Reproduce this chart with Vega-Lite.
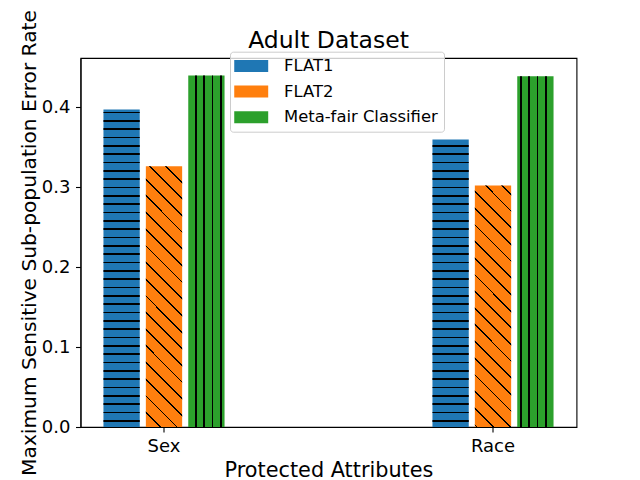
{
  "$schema": "https://vega.github.io/schema/vega-lite/v6.json",
  "width": 496,
  "height": 369,
  "autosize": {"type": "none"},
  "padding": {"left": 80.5, "top": 58, "right": 63.5, "bottom": 53},
  "background": "white",
  "config": {
    "font": "DejaVu Sans",
    "view": {"stroke": "black", "strokeWidth": 1.1},
    "axis": {"grid": false, "domainColor": "black", "domainWidth": 1.1, "tickColor": "black", "tickWidth": 1.1, "tickSize": 5, "labelColor": "black", "labelFont": "DejaVu Sans", "labelFontSize": 18, "titleColor": "black", "titleFont": "DejaVu Sans", "titleFontSize": 20.8, "titleFontWeight": "normal"}
  },
  "title": {"text": "Adult Dataset", "fontSize": 23.5, "font": "DejaVu Sans", "fontWeight": "normal", "color": "black", "anchor": "middle", "offset": -43},
  "data": {"values": [
    {"attribute": "Sex", "model": "FLAT1", "error": 0.397},
    {"attribute": "Sex", "model": "FLAT2", "error": 0.326},
    {"attribute": "Sex", "model": "Meta-fair Classifier", "error": 0.4395},
    {"attribute": "Race", "model": "FLAT1", "error": 0.3595},
    {"attribute": "Race", "model": "FLAT2", "error": 0.302},
    {"attribute": "Race", "model": "Meta-fair Classifier", "error": 0.4385}
  ]},
  "encoding": {
    "x": {"field": "attribute", "type": "nominal", "scale": {"domain": ["Sex", "Race"], "paddingInner": 0.6134, "paddingOuter": 0.0605},
      "axis": {"title": "Protected Attributes", "labelAngle": 0, "labelBaseline": "alphabetic", "labelPadding": 19.7, "titleBaseline": "alphabetic", "titleX": 248, "titleY": 49.7}},
    "xOffset": {"field": "model", "type": "nominal", "scale": {"domain": ["FLAT1", "FLAT2", "Meta-fair Classifier"], "paddingInner": 0.144, "paddingOuter": 0.072}},
    "y": {"field": "error", "type": "quantitative", "scale": {"domain": [0, 0.46125], "nice": false},
      "axis": {"title": "Maximum Sensitive Sub-population Error Rate", "titleFontSize": 20.2, "values": [0, 0.1, 0.2, 0.3, 0.4], "format": ".1f", "labelPadding": 5.5, "titleAngle": -90, "titleBaseline": "alphabetic", "titleAlign": "center", "titleX": -45, "titleY": 184.5}}
  },
  "layer": [
    {
      "mark": {"type": "bar"},
      "encoding": {
        "color": {"field": "model", "type": "nominal",
          "scale": {"domain": ["FLAT1", "FLAT2", "Meta-fair Classifier"], "range": ["#1f77b4", "#ff7f0e", "#2ca02c"]},
          "legend": {"title": null, "orient": "none", "legendX": 149.5, "legendY": -6.3, "direction": "vertical", "labelFontSize": 16.4, "labelFont": "DejaVu Sans", "labelColor": "black", "symbolType": "M-1.66,-1H4,V1H-1.66Z", "symbolSize": 144, "symbolStrokeWidth": 0, "symbolOpacity": 1, "labelOffset": 31.6, "rowPadding": 8.7, "padding": 6, "strokeColor": "#cccccc", "fillColor": "rgba(255,255,255,0.8)", "cornerRadius": 3}
        }
      }
    },
    {
      "transform": [{"filter": "datum.attribute == 'Sex' && datum.model == 'FLAT1'"}],
      "mark": {"type": "bar", "fill": {"gradient": "linear", "x1": 0, "y1": 1, "x2": 0, "y2": -0.04953, "stops": [
        {"offset": 0.0164, "color": "transparent"}, {"offset": 0.0164, "color": "black"}, {"offset": 0.0206, "color": "black"}, {"offset": 0.0206, "color": "transparent"},
        {"offset": 0.0414, "color": "transparent"}, {"offset": 0.0414, "color": "black"}, {"offset": 0.0456, "color": "black"}, {"offset": 0.0456, "color": "transparent"},
        {"offset": 0.0664, "color": "transparent"}, {"offset": 0.0664, "color": "black"}, {"offset": 0.0706, "color": "black"}, {"offset": 0.0706, "color": "transparent"},
        {"offset": 0.0914, "color": "transparent"}, {"offset": 0.0914, "color": "black"}, {"offset": 0.0956, "color": "black"}, {"offset": 0.0956, "color": "transparent"},
        {"offset": 0.1164, "color": "transparent"}, {"offset": 0.1164, "color": "black"}, {"offset": 0.1206, "color": "black"}, {"offset": 0.1206, "color": "transparent"},
        {"offset": 0.1414, "color": "transparent"}, {"offset": 0.1414, "color": "black"}, {"offset": 0.1456, "color": "black"}, {"offset": 0.1456, "color": "transparent"},
        {"offset": 0.1664, "color": "transparent"}, {"offset": 0.1664, "color": "black"}, {"offset": 0.1706, "color": "black"}, {"offset": 0.1706, "color": "transparent"},
        {"offset": 0.1914, "color": "transparent"}, {"offset": 0.1914, "color": "black"}, {"offset": 0.1956, "color": "black"}, {"offset": 0.1956, "color": "transparent"},
        {"offset": 0.2164, "color": "transparent"}, {"offset": 0.2164, "color": "black"}, {"offset": 0.2206, "color": "black"}, {"offset": 0.2206, "color": "transparent"},
        {"offset": 0.2414, "color": "transparent"}, {"offset": 0.2414, "color": "black"}, {"offset": 0.2456, "color": "black"}, {"offset": 0.2456, "color": "transparent"},
        {"offset": 0.2664, "color": "transparent"}, {"offset": 0.2664, "color": "black"}, {"offset": 0.2706, "color": "black"}, {"offset": 0.2706, "color": "transparent"},
        {"offset": 0.2914, "color": "transparent"}, {"offset": 0.2914, "color": "black"}, {"offset": 0.2956, "color": "black"}, {"offset": 0.2956, "color": "transparent"},
        {"offset": 0.3164, "color": "transparent"}, {"offset": 0.3164, "color": "black"}, {"offset": 0.3206, "color": "black"}, {"offset": 0.3206, "color": "transparent"},
        {"offset": 0.3414, "color": "transparent"}, {"offset": 0.3414, "color": "black"}, {"offset": 0.3456, "color": "black"}, {"offset": 0.3456, "color": "transparent"},
        {"offset": 0.3664, "color": "transparent"}, {"offset": 0.3664, "color": "black"}, {"offset": 0.3706, "color": "black"}, {"offset": 0.3706, "color": "transparent"},
        {"offset": 0.3914, "color": "transparent"}, {"offset": 0.3914, "color": "black"}, {"offset": 0.3956, "color": "black"}, {"offset": 0.3956, "color": "transparent"},
        {"offset": 0.4164, "color": "transparent"}, {"offset": 0.4164, "color": "black"}, {"offset": 0.4206, "color": "black"}, {"offset": 0.4206, "color": "transparent"},
        {"offset": 0.4414, "color": "transparent"}, {"offset": 0.4414, "color": "black"}, {"offset": 0.4456, "color": "black"}, {"offset": 0.4456, "color": "transparent"},
        {"offset": 0.4664, "color": "transparent"}, {"offset": 0.4664, "color": "black"}, {"offset": 0.4706, "color": "black"}, {"offset": 0.4706, "color": "transparent"},
        {"offset": 0.4914, "color": "transparent"}, {"offset": 0.4914, "color": "black"}, {"offset": 0.4956, "color": "black"}, {"offset": 0.4956, "color": "transparent"},
        {"offset": 0.5164, "color": "transparent"}, {"offset": 0.5164, "color": "black"}, {"offset": 0.5206, "color": "black"}, {"offset": 0.5206, "color": "transparent"},
        {"offset": 0.5414, "color": "transparent"}, {"offset": 0.5414, "color": "black"}, {"offset": 0.5456, "color": "black"}, {"offset": 0.5456, "color": "transparent"},
        {"offset": 0.5664, "color": "transparent"}, {"offset": 0.5664, "color": "black"}, {"offset": 0.5706, "color": "black"}, {"offset": 0.5706, "color": "transparent"},
        {"offset": 0.5914, "color": "transparent"}, {"offset": 0.5914, "color": "black"}, {"offset": 0.5956, "color": "black"}, {"offset": 0.5956, "color": "transparent"},
        {"offset": 0.6164, "color": "transparent"}, {"offset": 0.6164, "color": "black"}, {"offset": 0.6206, "color": "black"}, {"offset": 0.6206, "color": "transparent"},
        {"offset": 0.6414, "color": "transparent"}, {"offset": 0.6414, "color": "black"}, {"offset": 0.6456, "color": "black"}, {"offset": 0.6456, "color": "transparent"},
        {"offset": 0.6664, "color": "transparent"}, {"offset": 0.6664, "color": "black"}, {"offset": 0.6706, "color": "black"}, {"offset": 0.6706, "color": "transparent"},
        {"offset": 0.6914, "color": "transparent"}, {"offset": 0.6914, "color": "black"}, {"offset": 0.6956, "color": "black"}, {"offset": 0.6956, "color": "transparent"},
        {"offset": 0.7164, "color": "transparent"}, {"offset": 0.7164, "color": "black"}, {"offset": 0.7206, "color": "black"}, {"offset": 0.7206, "color": "transparent"},
        {"offset": 0.7414, "color": "transparent"}, {"offset": 0.7414, "color": "black"}, {"offset": 0.7456, "color": "black"}, {"offset": 0.7456, "color": "transparent"},
        {"offset": 0.7664, "color": "transparent"}, {"offset": 0.7664, "color": "black"}, {"offset": 0.7706, "color": "black"}, {"offset": 0.7706, "color": "transparent"},
        {"offset": 0.7914, "color": "transparent"}, {"offset": 0.7914, "color": "black"}, {"offset": 0.7956, "color": "black"}, {"offset": 0.7956, "color": "transparent"},
        {"offset": 0.8164, "color": "transparent"}, {"offset": 0.8164, "color": "black"}, {"offset": 0.8206, "color": "black"}, {"offset": 0.8206, "color": "transparent"},
        {"offset": 0.8414, "color": "transparent"}, {"offset": 0.8414, "color": "black"}, {"offset": 0.8456, "color": "black"}, {"offset": 0.8456, "color": "transparent"},
        {"offset": 0.8664, "color": "transparent"}, {"offset": 0.8664, "color": "black"}, {"offset": 0.8706, "color": "black"}, {"offset": 0.8706, "color": "transparent"},
        {"offset": 0.8914, "color": "transparent"}, {"offset": 0.8914, "color": "black"}, {"offset": 0.8956, "color": "black"}, {"offset": 0.8956, "color": "transparent"},
        {"offset": 0.9164, "color": "transparent"}, {"offset": 0.9164, "color": "black"}, {"offset": 0.9206, "color": "black"}, {"offset": 0.9206, "color": "transparent"},
        {"offset": 0.9414, "color": "transparent"}, {"offset": 0.9414, "color": "black"}, {"offset": 0.9456, "color": "black"}, {"offset": 0.9456, "color": "transparent"}
      ]}}
    },
    {
      "transform": [{"filter": "datum.attribute == 'Race' && datum.model == 'FLAT1'"}],
      "mark": {"type": "bar", "fill": {"gradient": "linear", "x1": 0, "y1": 1, "x2": 0, "y2": -0.15901, "stops": [
        {"offset": 0.0164, "color": "transparent"}, {"offset": 0.0164, "color": "black"}, {"offset": 0.0206, "color": "black"}, {"offset": 0.0206, "color": "transparent"},
        {"offset": 0.0414, "color": "transparent"}, {"offset": 0.0414, "color": "black"}, {"offset": 0.0456, "color": "black"}, {"offset": 0.0456, "color": "transparent"},
        {"offset": 0.0664, "color": "transparent"}, {"offset": 0.0664, "color": "black"}, {"offset": 0.0706, "color": "black"}, {"offset": 0.0706, "color": "transparent"},
        {"offset": 0.0914, "color": "transparent"}, {"offset": 0.0914, "color": "black"}, {"offset": 0.0956, "color": "black"}, {"offset": 0.0956, "color": "transparent"},
        {"offset": 0.1164, "color": "transparent"}, {"offset": 0.1164, "color": "black"}, {"offset": 0.1206, "color": "black"}, {"offset": 0.1206, "color": "transparent"},
        {"offset": 0.1414, "color": "transparent"}, {"offset": 0.1414, "color": "black"}, {"offset": 0.1456, "color": "black"}, {"offset": 0.1456, "color": "transparent"},
        {"offset": 0.1664, "color": "transparent"}, {"offset": 0.1664, "color": "black"}, {"offset": 0.1706, "color": "black"}, {"offset": 0.1706, "color": "transparent"},
        {"offset": 0.1914, "color": "transparent"}, {"offset": 0.1914, "color": "black"}, {"offset": 0.1956, "color": "black"}, {"offset": 0.1956, "color": "transparent"},
        {"offset": 0.2164, "color": "transparent"}, {"offset": 0.2164, "color": "black"}, {"offset": 0.2206, "color": "black"}, {"offset": 0.2206, "color": "transparent"},
        {"offset": 0.2414, "color": "transparent"}, {"offset": 0.2414, "color": "black"}, {"offset": 0.2456, "color": "black"}, {"offset": 0.2456, "color": "transparent"},
        {"offset": 0.2664, "color": "transparent"}, {"offset": 0.2664, "color": "black"}, {"offset": 0.2706, "color": "black"}, {"offset": 0.2706, "color": "transparent"},
        {"offset": 0.2914, "color": "transparent"}, {"offset": 0.2914, "color": "black"}, {"offset": 0.2956, "color": "black"}, {"offset": 0.2956, "color": "transparent"},
        {"offset": 0.3164, "color": "transparent"}, {"offset": 0.3164, "color": "black"}, {"offset": 0.3206, "color": "black"}, {"offset": 0.3206, "color": "transparent"},
        {"offset": 0.3414, "color": "transparent"}, {"offset": 0.3414, "color": "black"}, {"offset": 0.3456, "color": "black"}, {"offset": 0.3456, "color": "transparent"},
        {"offset": 0.3664, "color": "transparent"}, {"offset": 0.3664, "color": "black"}, {"offset": 0.3706, "color": "black"}, {"offset": 0.3706, "color": "transparent"},
        {"offset": 0.3914, "color": "transparent"}, {"offset": 0.3914, "color": "black"}, {"offset": 0.3956, "color": "black"}, {"offset": 0.3956, "color": "transparent"},
        {"offset": 0.4164, "color": "transparent"}, {"offset": 0.4164, "color": "black"}, {"offset": 0.4206, "color": "black"}, {"offset": 0.4206, "color": "transparent"},
        {"offset": 0.4414, "color": "transparent"}, {"offset": 0.4414, "color": "black"}, {"offset": 0.4456, "color": "black"}, {"offset": 0.4456, "color": "transparent"},
        {"offset": 0.4664, "color": "transparent"}, {"offset": 0.4664, "color": "black"}, {"offset": 0.4706, "color": "black"}, {"offset": 0.4706, "color": "transparent"},
        {"offset": 0.4914, "color": "transparent"}, {"offset": 0.4914, "color": "black"}, {"offset": 0.4956, "color": "black"}, {"offset": 0.4956, "color": "transparent"},
        {"offset": 0.5164, "color": "transparent"}, {"offset": 0.5164, "color": "black"}, {"offset": 0.5206, "color": "black"}, {"offset": 0.5206, "color": "transparent"},
        {"offset": 0.5414, "color": "transparent"}, {"offset": 0.5414, "color": "black"}, {"offset": 0.5456, "color": "black"}, {"offset": 0.5456, "color": "transparent"},
        {"offset": 0.5664, "color": "transparent"}, {"offset": 0.5664, "color": "black"}, {"offset": 0.5706, "color": "black"}, {"offset": 0.5706, "color": "transparent"},
        {"offset": 0.5914, "color": "transparent"}, {"offset": 0.5914, "color": "black"}, {"offset": 0.5956, "color": "black"}, {"offset": 0.5956, "color": "transparent"},
        {"offset": 0.6164, "color": "transparent"}, {"offset": 0.6164, "color": "black"}, {"offset": 0.6206, "color": "black"}, {"offset": 0.6206, "color": "transparent"},
        {"offset": 0.6414, "color": "transparent"}, {"offset": 0.6414, "color": "black"}, {"offset": 0.6456, "color": "black"}, {"offset": 0.6456, "color": "transparent"},
        {"offset": 0.6664, "color": "transparent"}, {"offset": 0.6664, "color": "black"}, {"offset": 0.6706, "color": "black"}, {"offset": 0.6706, "color": "transparent"},
        {"offset": 0.6914, "color": "transparent"}, {"offset": 0.6914, "color": "black"}, {"offset": 0.6956, "color": "black"}, {"offset": 0.6956, "color": "transparent"},
        {"offset": 0.7164, "color": "transparent"}, {"offset": 0.7164, "color": "black"}, {"offset": 0.7206, "color": "black"}, {"offset": 0.7206, "color": "transparent"},
        {"offset": 0.7414, "color": "transparent"}, {"offset": 0.7414, "color": "black"}, {"offset": 0.7456, "color": "black"}, {"offset": 0.7456, "color": "transparent"},
        {"offset": 0.7664, "color": "transparent"}, {"offset": 0.7664, "color": "black"}, {"offset": 0.7706, "color": "black"}, {"offset": 0.7706, "color": "transparent"},
        {"offset": 0.7914, "color": "transparent"}, {"offset": 0.7914, "color": "black"}, {"offset": 0.7956, "color": "black"}, {"offset": 0.7956, "color": "transparent"},
        {"offset": 0.8164, "color": "transparent"}, {"offset": 0.8164, "color": "black"}, {"offset": 0.8206, "color": "black"}, {"offset": 0.8206, "color": "transparent"},
        {"offset": 0.8414, "color": "transparent"}, {"offset": 0.8414, "color": "black"}, {"offset": 0.8456, "color": "black"}, {"offset": 0.8456, "color": "transparent"}
      ]}}
    },
    {
      "transform": [{"filter": "datum.attribute == 'Sex' && datum.model == 'FLAT2'"}],
      "mark": {"type": "bar", "fill": {"gradient": "linear", "x1": 1, "y1": 0, "x2": 0.84293, "y2": 1.12846, "stops": [
        {"offset": 0.0499, "color": "transparent"}, {"offset": 0.0499, "color": "black"}, {"offset": 0.0565, "color": "black"}, {"offset": 0.0565, "color": "transparent"},
        {"offset": 0.1054, "color": "transparent"}, {"offset": 0.1054, "color": "black"}, {"offset": 0.1120, "color": "black"}, {"offset": 0.1120, "color": "transparent"},
        {"offset": 0.1610, "color": "transparent"}, {"offset": 0.1610, "color": "black"}, {"offset": 0.1676, "color": "black"}, {"offset": 0.1676, "color": "transparent"},
        {"offset": 0.2165, "color": "transparent"}, {"offset": 0.2165, "color": "black"}, {"offset": 0.2231, "color": "black"}, {"offset": 0.2231, "color": "transparent"},
        {"offset": 0.2721, "color": "transparent"}, {"offset": 0.2721, "color": "black"}, {"offset": 0.2787, "color": "black"}, {"offset": 0.2787, "color": "transparent"},
        {"offset": 0.3276, "color": "transparent"}, {"offset": 0.3276, "color": "black"}, {"offset": 0.3342, "color": "black"}, {"offset": 0.3342, "color": "transparent"},
        {"offset": 0.3832, "color": "transparent"}, {"offset": 0.3832, "color": "black"}, {"offset": 0.3898, "color": "black"}, {"offset": 0.3898, "color": "transparent"},
        {"offset": 0.4388, "color": "transparent"}, {"offset": 0.4388, "color": "black"}, {"offset": 0.4454, "color": "black"}, {"offset": 0.4454, "color": "transparent"},
        {"offset": 0.4943, "color": "transparent"}, {"offset": 0.4943, "color": "black"}, {"offset": 0.5009, "color": "black"}, {"offset": 0.5009, "color": "transparent"},
        {"offset": 0.5499, "color": "transparent"}, {"offset": 0.5499, "color": "black"}, {"offset": 0.5565, "color": "black"}, {"offset": 0.5565, "color": "transparent"},
        {"offset": 0.6054, "color": "transparent"}, {"offset": 0.6054, "color": "black"}, {"offset": 0.6120, "color": "black"}, {"offset": 0.6120, "color": "transparent"},
        {"offset": 0.6610, "color": "transparent"}, {"offset": 0.6610, "color": "black"}, {"offset": 0.6676, "color": "black"}, {"offset": 0.6676, "color": "transparent"},
        {"offset": 0.7165, "color": "transparent"}, {"offset": 0.7165, "color": "black"}, {"offset": 0.7231, "color": "black"}, {"offset": 0.7231, "color": "transparent"},
        {"offset": 0.7721, "color": "transparent"}, {"offset": 0.7721, "color": "black"}, {"offset": 0.7787, "color": "black"}, {"offset": 0.7787, "color": "transparent"},
        {"offset": 0.8276, "color": "transparent"}, {"offset": 0.8276, "color": "black"}, {"offset": 0.8342, "color": "black"}, {"offset": 0.8342, "color": "transparent"},
        {"offset": 0.8832, "color": "transparent"}, {"offset": 0.8832, "color": "black"}, {"offset": 0.8898, "color": "black"}, {"offset": 0.8898, "color": "transparent"},
        {"offset": 0.9388, "color": "transparent"}, {"offset": 0.9388, "color": "black"}, {"offset": 0.9454, "color": "black"}, {"offset": 0.9454, "color": "transparent"}
      ]}}
    },
    {
      "transform": [{"filter": "datum.attribute == 'Race' && datum.model == 'FLAT2'"}],
      "mark": {"type": "bar", "fill": {"gradient": "linear", "x1": 1, "y1": 0, "x2": 0.81755, "y2": 1.21431, "stops": [
        {"offset": 0.0270, "color": "transparent"}, {"offset": 0.0270, "color": "black"}, {"offset": 0.0336, "color": "black"}, {"offset": 0.0336, "color": "transparent"},
        {"offset": 0.0825, "color": "transparent"}, {"offset": 0.0825, "color": "black"}, {"offset": 0.0891, "color": "black"}, {"offset": 0.0891, "color": "transparent"},
        {"offset": 0.1381, "color": "transparent"}, {"offset": 0.1381, "color": "black"}, {"offset": 0.1447, "color": "black"}, {"offset": 0.1447, "color": "transparent"},
        {"offset": 0.1936, "color": "transparent"}, {"offset": 0.1936, "color": "black"}, {"offset": 0.2002, "color": "black"}, {"offset": 0.2002, "color": "transparent"},
        {"offset": 0.2492, "color": "transparent"}, {"offset": 0.2492, "color": "black"}, {"offset": 0.2558, "color": "black"}, {"offset": 0.2558, "color": "transparent"},
        {"offset": 0.3048, "color": "transparent"}, {"offset": 0.3048, "color": "black"}, {"offset": 0.3114, "color": "black"}, {"offset": 0.3114, "color": "transparent"},
        {"offset": 0.3603, "color": "transparent"}, {"offset": 0.3603, "color": "black"}, {"offset": 0.3669, "color": "black"}, {"offset": 0.3669, "color": "transparent"},
        {"offset": 0.4159, "color": "transparent"}, {"offset": 0.4159, "color": "black"}, {"offset": 0.4225, "color": "black"}, {"offset": 0.4225, "color": "transparent"},
        {"offset": 0.4714, "color": "transparent"}, {"offset": 0.4714, "color": "black"}, {"offset": 0.4780, "color": "black"}, {"offset": 0.4780, "color": "transparent"},
        {"offset": 0.5270, "color": "transparent"}, {"offset": 0.5270, "color": "black"}, {"offset": 0.5336, "color": "black"}, {"offset": 0.5336, "color": "transparent"},
        {"offset": 0.5825, "color": "transparent"}, {"offset": 0.5825, "color": "black"}, {"offset": 0.5891, "color": "black"}, {"offset": 0.5891, "color": "transparent"},
        {"offset": 0.6381, "color": "transparent"}, {"offset": 0.6381, "color": "black"}, {"offset": 0.6447, "color": "black"}, {"offset": 0.6447, "color": "transparent"},
        {"offset": 0.6936, "color": "transparent"}, {"offset": 0.6936, "color": "black"}, {"offset": 0.7002, "color": "black"}, {"offset": 0.7002, "color": "transparent"},
        {"offset": 0.7492, "color": "transparent"}, {"offset": 0.7492, "color": "black"}, {"offset": 0.7558, "color": "black"}, {"offset": 0.7558, "color": "transparent"},
        {"offset": 0.8048, "color": "transparent"}, {"offset": 0.8048, "color": "black"}, {"offset": 0.8114, "color": "black"}, {"offset": 0.8114, "color": "transparent"},
        {"offset": 0.8603, "color": "transparent"}, {"offset": 0.8603, "color": "black"}, {"offset": 0.8669, "color": "black"}, {"offset": 0.8669, "color": "transparent"},
        {"offset": 0.9159, "color": "transparent"}, {"offset": 0.9159, "color": "black"}, {"offset": 0.9225, "color": "black"}, {"offset": 0.9225, "color": "transparent"}
      ]}}
    },
    {
      "transform": [{"filter": "datum.attribute == 'Sex' && datum.model == 'Meta-fair Classifier'"}],
      "mark": {"type": "bar", "fill": {"gradient": "linear", "x1": 0, "y1": 0, "x2": 1, "y2": 0, "stops": [
        {"offset": 0.1895, "color": "transparent"}, {"offset": 0.1895, "color": "black"}, {"offset": 0.2281, "color": "black"}, {"offset": 0.2281, "color": "transparent"},
        {"offset": 0.4192, "color": "transparent"}, {"offset": 0.4192, "color": "black"}, {"offset": 0.4578, "color": "black"}, {"offset": 0.4578, "color": "transparent"},
        {"offset": 0.6487, "color": "transparent"}, {"offset": 0.6487, "color": "black"}, {"offset": 0.6873, "color": "black"}, {"offset": 0.6873, "color": "transparent"},
        {"offset": 0.8782, "color": "transparent"}, {"offset": 0.8782, "color": "black"}, {"offset": 0.9168, "color": "black"}, {"offset": 0.9168, "color": "transparent"}
      ]}}
    },
    {
      "transform": [{"filter": "datum.attribute == 'Race' && datum.model == 'Meta-fair Classifier'"}],
      "mark": {"type": "bar", "fill": {"gradient": "linear", "x1": 0, "y1": 0, "x2": 1, "y2": 0, "stops": [
        {"offset": 0.0793, "color": "transparent"}, {"offset": 0.0793, "color": "black"}, {"offset": 0.1179, "color": "black"}, {"offset": 0.1179, "color": "transparent"},
        {"offset": 0.3091, "color": "transparent"}, {"offset": 0.3091, "color": "black"}, {"offset": 0.3477, "color": "black"}, {"offset": 0.3477, "color": "transparent"},
        {"offset": 0.5386, "color": "transparent"}, {"offset": 0.5386, "color": "black"}, {"offset": 0.5772, "color": "black"}, {"offset": 0.5772, "color": "transparent"},
        {"offset": 0.7680, "color": "transparent"}, {"offset": 0.7680, "color": "black"}, {"offset": 0.8066, "color": "black"}, {"offset": 0.8066, "color": "transparent"}
      ]}}
    }
  ]
}
